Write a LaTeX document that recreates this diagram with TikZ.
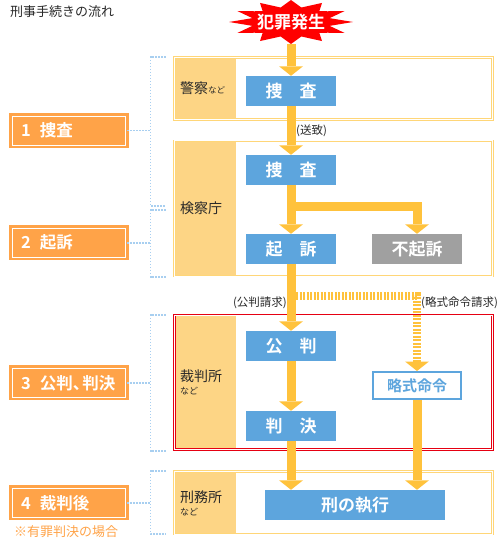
\documentclass[tikz,border=0pt]{standalone}
\usepackage{fontspec}
\setmainfont{Noto Sans CJK JP}[BoldFont={Noto Sans CJK JP Bold}]
\usepackage{tikz}
\usetikzlibrary{
  arrows.meta,
  calc
}
\usepackage{xcolor}
\newcommand{\jfs}[1]{\fontsize{#1}{#1}\selectfont}
\definecolor{stageor}{RGB}{255, 163, 72}
\definecolor{panelfill}{RGB}{253, 213, 133}
\definecolor{frameyel}{RGB}{255, 214, 120}
\definecolor{framered}{RGB}{230, 0, 18}
\definecolor{flowyel}{RGB}{255, 194, 60}
\definecolor{boxblue}{RGB}{93, 165, 221}
\definecolor{boxgray}{RGB}{160, 160, 160}
\definecolor{burstred}{RGB}{255, 0, 0}
\definecolor{brackblue}{RGB}{168, 207, 240}
\definecolor{txtgray}{RGB}{40, 40, 40}
\tikzset{
  % Bosqich ramkalari
  framey/.style   = {draw=frameyel, double=white, double distance=1pt, line width=0.8pt},
  framer/.style   = {draw=framered, double=white, double distance=1pt, line width=0.8pt},
  panel/.style    = {fill=panelfill},
  panellab/.style = {anchor=west, align=left, inner sep=0pt, text=txtgray, font=\fontsize{14}{13}\selectfont},
  % Qutilar
  bluebox/.style  = {fill=boxblue, text=white, minimum width=90pt, minimum height=30pt,
                     inner sep=0pt, font=\jfs{17}\bfseries},
  graybox/.style  = {bluebox, fill=boxgray},
  linebox/.style  = {draw=boxblue, line width=2pt, fill=white, text=boxblue, minimum width=88pt,
                     minimum height=27pt, inner sep=0pt, font=\jfs{15}\bfseries},
  burst/.style    = {text=white, font=\jfs{17}\bfseries, minimum height=44pt, inner sep=0pt},
  % Bosqich yorliqlari
  stagelab/.style = {draw=stageor, double=white, double distance=1pt, line width=2.5pt,
                     fill=stageor, text=white, font=\jfs{16.5}\bfseries, text width=95.7pt,
                     align=left, inner xsep=9pt, inner ysep=0pt, minimum height=28.7pt},
  % Strelkalar
  flow/.style     = {draw=flowyel, line width=9pt,
                     -{Triangle[width=24pt, length=9.5pt, line width=0pt]}},
  dashflow/.style = {draw=flowyel, line width=8pt, dash pattern=on 2pt off 1.5pt,
                     -{Triangle[width=24pt, length=9.5pt, line width=0pt]}},
  brack/.style    = {draw=brackblue, line width=1.6pt, dash pattern=on 1.6pt off 1.4pt},
  % Matnlar
  title/.style    = {anchor=west, inner sep=0pt, text=txtgray, font=\jfs{13}},
  small/.style    = {inner sep=0pt, text=txtgray, font=\jfs{11.5}},
}
\begin{document}
\begin{tikzpicture}[x=1pt, y=-1pt]
  \useasboundingbox (0,0) rectangle (500,540);
  \node[title] (title) at (10,11.5) {刑事手続きの流れ};
  % Ramkalar
  \fill[panel] (174.5,57.5) rectangle (236,119.5);
  \draw[framey] (174.5,57.5) rectangle (492.5,119.5);
  \fill[panel] (174.5,141) rectangle (236,276);
  \draw[framey] (174.5,141) rectangle (492.5,276);
  \fill[panel] (174.5,315) rectangle (236,449.5);
  \draw[framer] (174.5,315) rectangle (492.5,449.5);
  \fill[panel] (174.5,471.7) rectangle (236,534);
  \draw[framey] (174.5,471.7) rectangle (492.5,534);
  \node[panellab] (keisatsu) at (180,88.5) {警察{\jfs{8.5}など}};
  \node[panellab] (kensatsu) at (180,208.5) {検察庁};
  \node[panellab] (saiban) at (180,382) {裁判所\\{\jfs{9}など}};
  \node[panellab] (keimusho) at (180,503) {刑務所\\{\jfs{9}など}};
  % Yorliqlar
  \node[stagelab] (lab1) at (68.85,130.7) {1\hspace{.55em}捜査};
  \node[stagelab] (lab2) at (68.85,242.8) {2\hspace{.55em}起訴};
  \node[stagelab] (lab3) at (68.85,382.8) {3\hspace{.55em}公判、\kern-7pt判決};
  \node[stagelab] (lab4) at (68.85,502.8) {4\hspace{.55em}裁判後};
  \node[title, text=stageor] (note) at (14,531.5) {※有罪判決の場合};
  % Qavslar
  \coordinate (bx) at (150.5,0);
  \draw[brack] (165.7,57) -| (150.5,206) -- (165.7,206);
  \draw[brack] (165.7,210) -| (150.5,277) -- (165.7,277);
  \draw[brack] (165.7,315) -| (150.5,451) -- (165.7,451);
  \draw[brack] (165.7,471) -| (150.5,534) -- (165.7,534);
  \draw[brack] (lab1.east) -- (lab1.east -| bx);
  \draw[brack] (lab2.east) -- (lab2.east -| bx);
  \draw[brack] (lab3.east) -- (lab3.east -| bx);
  \draw[brack] (lab4.east) -- (lab4.east -| bx);
  % Portlash
  \fill[burstred, shift={(291,22)}] (62,0)
    \foreach \a in {0,30,...,330}{ -- ({40*cos(\a+15)},{15*sin(\a+15)}) -- ({62*cos(\a+30)},{22*sin(\a+30)}) }
    -- cycle;
  \fill[burstred] (255,11) rectangle (327,33);
  \node[burst] (hassei) at (291,22) {犯罪発生};
  % Qutilar
  \node[bluebox] (sousa1) at (291,91) {捜　査};
  \node[bluebox] (sousa2) at (291,170) {捜　査};
  \node[bluebox] (kiso) at (291,249) {起　訴};
  \node[graybox] (fukiso) at (417,249) {不起訴};
  \node[bluebox] (kouhan) at (291,346) {公　判};
  \node[bluebox] (hanketsu) at (291,426) {判　決};
  \node[linebox] (ryaku) at (417,385.5) {略式命令};
  \node[bluebox, minimum width=180pt] (shikko) at (355,505) {刑の執行};
  % Strelkalar
  \coordinate (seikyu) at (296,295.5);
  \draw[dashflow] (seikyu) -| (ryaku);
  \draw[flow] (hassei) -- (sousa1);
  \draw[flow] (sousa1) -- (sousa2);
  \draw[flow] (sousa2) -- (kiso);
  \draw[flow] (sousa2.south) -- ++(0,21) -| (fukiso);
  \draw[flow] (kiso) -- (kouhan);
  \draw[flow] (kouhan) -- (hanketsu);
  \draw[flow] (hanketsu) -- (hanketsu |- shikko.north);
  \draw[flow] (ryaku) -- (ryaku |- shikko.north);
  \node[small, anchor=west] (souchi) at (296,130.5) {(送致)};
  \node[small, anchor=east] (kohanlab) at (287,303) {(公判請求)};
  \node[small, anchor=west] (ryakulab) at (421,303) {(略式命令請求)};
\end{tikzpicture}
\end{document}
